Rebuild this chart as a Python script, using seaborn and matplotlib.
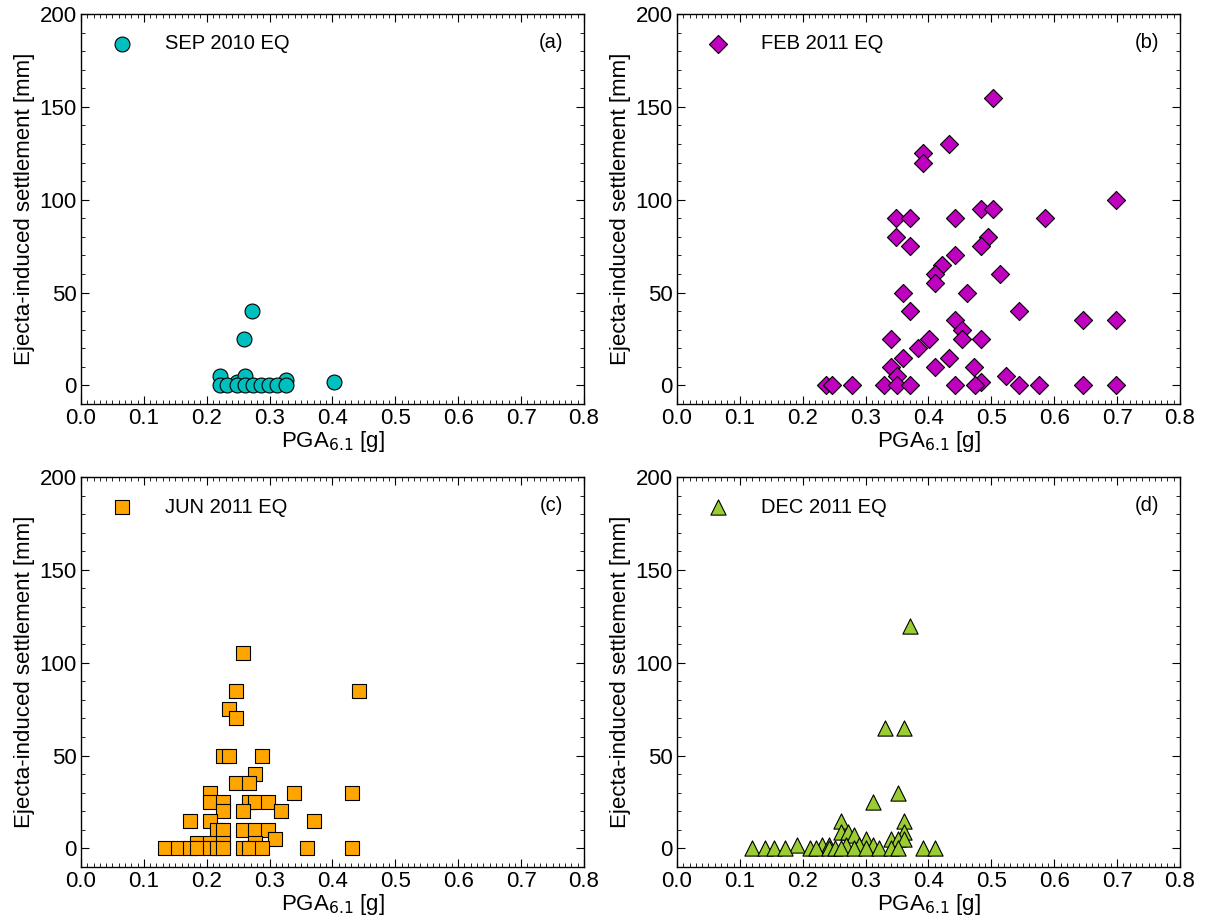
import matplotlib
matplotlib.use('Agg')
import matplotlib.pyplot as plt
import seaborn as sns
from matplotlib.ticker import MultipleLocator

# (a) SEP 2010
sep_pga = [0.272, 0.260, 0.402, 0.221, 0.248, 0.261, 0.326,
           0.221, 0.233, 0.248, 0.261, 0.273, 0.286, 0.299, 0.312, 0.326]
sep_set = [40, 25, 2, 5, 2, 5, 3,
           0, 0, 0, 0, 0, 0, 0, 0, 0]

# (b) FEB 2011
feb_pga = [0.502, 0.432, 0.391, 0.391, 0.349, 0.370, 0.442, 0.483, 0.502, 0.349,
           0.370, 0.494, 0.483, 0.442, 0.422, 0.411, 0.411, 0.514, 0.360, 0.462,
           0.370, 0.442, 0.453, 0.340, 0.401, 0.453, 0.484, 0.383, 0.360, 0.432,
           0.340, 0.411, 0.472, 0.350, 0.484, 0.524, 0.544, 0.586, 0.698, 0.646,
           0.698,
           0.237, 0.247, 0.278, 0.329, 0.350, 0.370, 0.442, 0.474, 0.544, 0.576,
           0.646, 0.698]
feb_set = [155, 130, 125, 120, 90, 90, 90, 95, 95, 80,
           75, 80, 75, 70, 65, 60, 55, 60, 50, 50,
           40, 35, 30, 25, 25, 25, 25, 20, 15, 15,
           10, 10, 10, 5, 2, 5, 40, 90, 100, 35,
           35,
           0, 0, 0, 0, 0, 0, 0, 0, 0, 0,
           0, 0]

# (c) JUN 2011
jun_pga = [0.257, 0.246, 0.442, 0.236, 0.246, 0.226, 0.236, 0.288, 0.277, 0.246,
           0.267, 0.205, 0.339, 0.431, 0.205, 0.226, 0.267, 0.277, 0.298, 0.226,
           0.257, 0.318, 0.174, 0.205, 0.370, 0.216, 0.226, 0.257, 0.277, 0.298,
           0.308, 0.184, 0.205, 0.226, 0.277,
           0.134, 0.154, 0.174, 0.185, 0.205, 0.216, 0.226, 0.257, 0.267, 0.288,
           0.359, 0.431]
jun_set = [105, 85, 85, 75, 70, 50, 50, 50, 40, 35,
           35, 30, 30, 30, 25, 25, 25, 25, 25, 20,
           20, 20, 15, 15, 15, 10, 10, 10, 10, 10,
           5, 3, 3, 3, 3,
           0, 0, 0, 0, 0, 0, 0, 0, 0, 0,
           0, 0]

# (d) DEC 2011
dec_pga = [0.371, 0.331, 0.361, 0.351, 0.311, 0.261, 0.361, 0.261, 0.272, 0.282,
           0.361, 0.300, 0.341, 0.351, 0.361, 0.231, 0.241, 0.290, 0.312, 0.269,
           0.191,
           0.120, 0.140, 0.155, 0.171, 0.211, 0.221, 0.241, 0.251, 0.261, 0.281,
           0.301, 0.321, 0.341, 0.351, 0.391, 0.411]
dec_set = [120, 65, 65, 30, 25, 15, 15, 9, 9, 7,
           9, 5, 5, 5, 5, 2, 2, 2, 2, 2,
           2,
           0, 0, 0, 0, 0, 0, 0, 0, 0, 0,
           0, 0, 0, 0, 0, 0]

panels = [
    (sep_pga, sep_set, 'SEP 2010 EQ', '(a)', 'o', '#00BFBF', 115),
    (feb_pga, feb_set, 'FEB 2011 EQ', '(b)', 'D', '#BF00BF', 85),
    (jun_pga, jun_set, 'JUN 2011 EQ', '(c)', 's', '#FFA500', 95),
    (dec_pga, dec_set, 'DEC 2011 EQ', '(d)', '^', '#9ACD32', 120),
]

sns.set_style('ticks')
plt.rcParams['font.family'] = ['Liberation Sans', 'DejaVu Sans']
plt.rcParams['text.color'] = 'black'
plt.rcParams['axes.labelcolor'] = 'black'
plt.rcParams['xtick.color'] = 'black'
plt.rcParams['ytick.color'] = 'black'
plt.rcParams['xtick.direction'] = 'in'
plt.rcParams['ytick.direction'] = 'in'

fig = plt.figure(figsize=(12.07, 9.24), dpi=100)
boxes = [
    [0.0671, 0.5628, 0.4167, 0.4221],
    [0.5609, 0.5628, 0.4167, 0.4221],
    [0.0671, 0.0617, 0.4167, 0.4221],
    [0.5609, 0.0617, 0.4167, 0.4221],
]

for box, (xs, ys, lab, tag, mk, col, size) in zip(boxes, panels):
    ax = fig.add_axes(box)
    sns.scatterplot(x=xs, y=ys, ax=ax, marker=mk, color=col, s=size,
                    edgecolor='black', linewidth=0.8, label=lab, zorder=3)
    ax.set_xlim(0, 0.8)
    ax.set_ylim(-10, 200)
    ax.xaxis.set_major_locator(MultipleLocator(0.1))
    ax.xaxis.set_minor_locator(MultipleLocator(0.01))
    ax.yaxis.set_major_locator(MultipleLocator(50))
    ax.yaxis.set_minor_locator(MultipleLocator(10))
    ax.set_xticklabels([f'{v:.1f}' for v in ax.get_xticks()])
    ax.tick_params(which='both', top=True, right=True, direction='in',
                   labelsize=16, color='black', labelcolor='black', pad=3)
    ax.tick_params(which='major', length=6, width=0.8)
    ax.tick_params(which='minor', length=3, width=0.6)
    for sp in ax.spines.values():
        sp.set_linewidth(1.0)
        sp.set_color('black')
    ax.set_xlabel('PGA$_{6.1}$ [g]', fontsize=16, labelpad=0)
    ax.set_ylabel('Ejecta-induced settlement [mm]', fontsize=16, labelpad=3)
    ax.legend(loc='upper left', bbox_to_anchor=(0.0, 1.0), frameon=False,
              fontsize=14.5, handletextpad=1.15, borderaxespad=0.62)
    ax.text(0.958, 0.926, tag, transform=ax.transAxes, ha='right', va='center',
            fontsize=14.5)

fig.savefig('out.png', dpi=100)
